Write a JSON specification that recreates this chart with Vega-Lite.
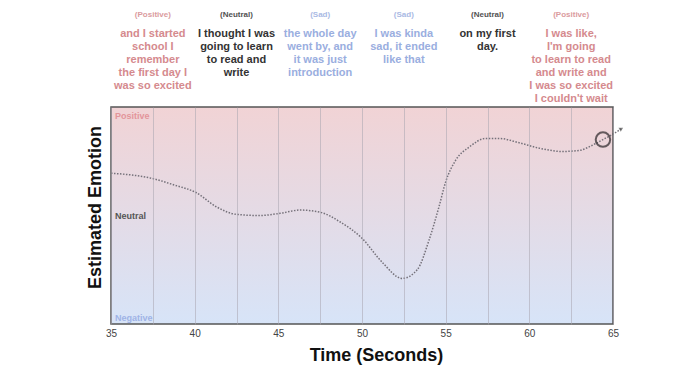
{
  "$schema": "https://vega.github.io/schema/vega-lite/v6.json",
  "width": 502,
  "height": 217,
  "autosize": {"type": "none"},
  "padding": {"left": 111, "top": 107, "right": 87, "bottom": 58},
  "background": "white",
  "config": {
    "font": "Liberation Sans",
    "view": {"stroke": null}
  },
  "datasets": {
    "curve": [
      {"time": 35.0, "emotion": 0.39},
      {"time": 37.5, "emotion": 0.34},
      {"time": 38.8, "emotion": 0.28},
      {"time": 40.1, "emotion": 0.21},
      {"time": 41.3, "emotion": 0.08},
      {"time": 42.5, "emotion": 0.01},
      {"time": 43.9, "emotion": 0.0},
      {"time": 45.1, "emotion": 0.02},
      {"time": 46.3, "emotion": 0.05},
      {"time": 47.5, "emotion": 0.03},
      {"time": 48.7, "emotion": -0.06},
      {"time": 50.0, "emotion": -0.21},
      {"time": 51.2, "emotion": -0.43},
      {"time": 52.4, "emotion": -0.58},
      {"time": 53.3, "emotion": -0.5},
      {"time": 54.0, "emotion": -0.23},
      {"time": 54.6, "emotion": 0.08},
      {"time": 55.0, "emotion": 0.31},
      {"time": 55.6, "emotion": 0.51},
      {"time": 56.4, "emotion": 0.63},
      {"time": 57.4, "emotion": 0.71},
      {"time": 58.2, "emotion": 0.71},
      {"time": 59.4, "emotion": 0.67},
      {"time": 60.6, "emotion": 0.62},
      {"time": 62.0, "emotion": 0.59},
      {"time": 63.0, "emotion": 0.6},
      {"time": 63.8, "emotion": 0.65},
      {"time": 64.4, "emotion": 0.7},
      {"time": 65.0, "emotion": 0.75},
      {"time": 65.5, "emotion": 0.8}
    ],
    "quotes": [
      {"t": 37.5, "kind": "Positive", "head": "(Positive)", "words": "and I started\nschool I\nremember\nthe first day I\nwas so excited"},
      {"t": 42.5, "kind": "Neutral", "head": "(Neutral)", "words": "I thought I was\ngoing to learn\nto read and\nwrite"},
      {"t": 47.5, "kind": "Sad", "head": "(Sad)", "words": "the whole day\nwent by, and\nit was just\nintroduction"},
      {"t": 52.5, "kind": "Sad", "head": "(Sad)", "words": "I was kinda\nsad, it ended\nlike that"},
      {"t": 57.5, "kind": "Neutral", "head": "(Neutral)", "words": "on my first\nday."},
      {"t": 62.5, "kind": "Positive", "head": "(Positive)", "words": "I was like,\nI'm going\nto learn to read\nand write and\nI was so excited\nI couldn't wait"}
    ],
    "levels": [
      {"level": "Positive", "emotion": 0.915},
      {"level": "Neutral", "emotion": 0.0},
      {"level": "Negative", "emotion": -0.945}
    ]
  },
  "layer": [
    {
      "data": {"values": [{}]},
      "mark": {
        "type": "rect",
        "fill": {
          "gradient": "linear",
          "x1": 0, "y1": 0, "x2": 0, "y2": 1,
          "stops": [
            {"offset": 0, "color": "#f1d3d5"},
            {"offset": 0.5, "color": "#e4dbe6"},
            {"offset": 1, "color": "#d7e4f8"}
          ]
        }
      },
      "encoding": {
        "x": {
          "datum": 35,
          "type": "quantitative",
          "scale": {"domain": [35, 65], "nice": false, "zero": false},
          "axis": {
            "zindex": 1,
            "values": [35, 37.5, 40, 42.5, 45, 47.5, 50, 52.5, 55, 57.5, 60, 62.5, 65],
            "labelExpr": "datum.value % 5 === 0 ? datum.label : ''",
            "grid": true,
            "gridColor": "#a9a6b0",
            "gridWidth": 1,
            "gridOpacity": 0.55,
            "ticks": false,
            "domain": false,
            "labelFontSize": 10,
            "labelColor": "#444",
            "labelPadding": 4,
            "labelFlush": false,
            "title": "Time (Seconds)",
            "titleFontSize": 18,
            "titleFontWeight": "bold",
            "titleColor": "#111",
            "titlePadding": 8,
            "titleX": 265
          }
        },
        "x2": {"datum": 65},
        "y": {
          "datum": -1,
          "type": "quantitative",
          "scale": {"domain": [-1, 1], "nice": false, "zero": false},
          "axis": {
            "labels": false,
            "ticks": false,
            "domain": false,
            "grid": false,
            "title": "Estimated Emotion",
            "titleFontSize": 18,
            "titleFontWeight": "bold",
            "titleColor": "#111",
            "titlePadding": 7,
            "titleY": 100
          }
        },
        "y2": {"datum": 1}
      }
    },
    {
      "data": {"name": "levels"},
      "mark": {"type": "text", "align": "left", "baseline": "middle", "dx": 4, "fontSize": 9, "fontWeight": "bold"},
      "encoding": {
        "x": {"datum": 35, "type": "quantitative"},
        "y": {"field": "emotion", "type": "quantitative"},
        "text": {"field": "level"},
        "color": {
          "field": "level",
          "type": "nominal",
          "scale": {"domain": ["Positive", "Neutral", "Negative"], "range": ["#e3959b", "#555555", "#9fb3e6"]},
          "legend": null
        }
      }
    },
    {
      "data": {"name": "curve"},
      "mark": {"type": "line", "interpolate": "monotone", "color": "#75717a", "strokeWidth": 1.5, "strokeDash": [1.5, 1.5]},
      "encoding": {
        "x": {"field": "time", "type": "quantitative"},
        "y": {"field": "emotion", "type": "quantitative"}
      }
    },
    {
      "data": {"values": [{"time": 65.5, "emotion": 0.8}]},
      "mark": {"type": "point", "shape": "triangle-right", "filled": true, "color": "#555", "size": 22, "angle": 331},
      "encoding": {
        "x": {"field": "time", "type": "quantitative"},
        "y": {"field": "emotion", "type": "quantitative"}
      }
    },
    {
      "data": {"values": [{}]},
      "mark": {"type": "rect", "fill": null, "stroke": "#555", "strokeWidth": 1.5},
      "encoding": {
        "x": {"datum": 35, "type": "quantitative"},
        "x2": {"datum": 65},
        "y": {"datum": -1, "type": "quantitative"},
        "y2": {"datum": 1}
      }
    },
    {
      "data": {"values": [{"time": 64.4, "emotion": 0.7}]},
      "mark": {"type": "point", "shape": "circle", "filled": false, "stroke": "#2a2528", "strokeWidth": 2, "size": 210},
      "encoding": {
        "x": {"field": "time", "type": "quantitative"},
        "y": {"field": "emotion", "type": "quantitative"}
      }
    },
    {
      "data": {"name": "quotes"},
      "mark": {"type": "text", "align": "center", "baseline": "middle", "fontSize": 8, "fontWeight": "bold", "opacity": 0.85},
      "encoding": {
        "x": {"field": "t", "type": "quantitative"},
        "y": {"datum": 1.848, "type": "quantitative"},
        "text": {"field": "head"},
        "color": {
          "field": "kind",
          "type": "nominal",
          "scale": {"domain": ["Positive", "Neutral", "Sad"], "range": ["#d58a8e", "#333333", "#9aaee0"]},
          "legend": null
        }
      }
    },
    {
      "data": {"name": "quotes"},
      "mark": {"type": "text", "align": "center", "baseline": "top", "fontSize": 11, "fontWeight": "bold", "lineBreak": "\n", "lineHeight": 13},
      "encoding": {
        "x": {"field": "t", "type": "quantitative"},
        "y": {"datum": 1.728, "type": "quantitative"},
        "text": {"field": "words"},
        "color": {
          "field": "kind",
          "type": "nominal",
          "scale": {"domain": ["Positive", "Neutral", "Sad"], "range": ["#d58a8e", "#333333", "#9aaee0"]},
          "legend": null
        }
      }
    }
  ],
  "resolve": {"scale": {"color": "independent"}}
}
